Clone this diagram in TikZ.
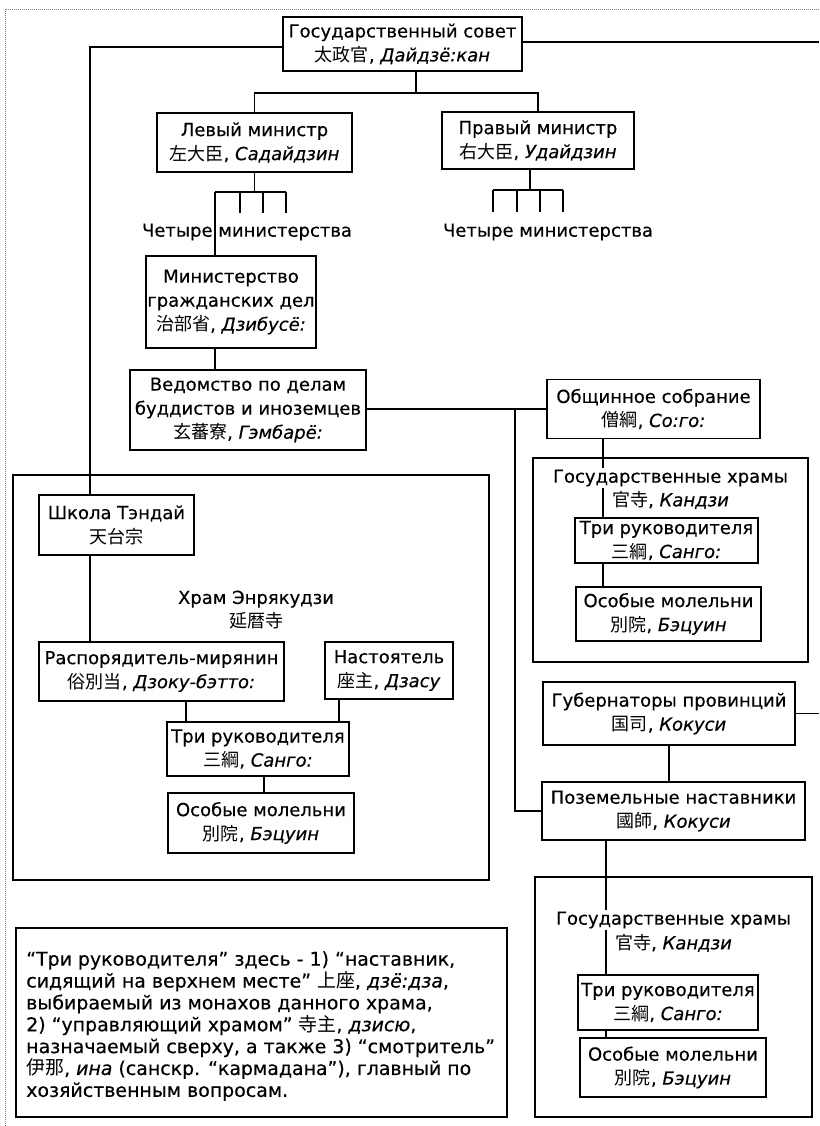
\documentclass[tikz,border=0pt]{standalone}
\usepackage{fontspec}
\setmainfont{DejaVu Sans}[FakeBold=0.4]
\newfontfamily\jpfont{Noto Sans CJK JP}
\newcommand{\kj}[1]{{\jpfont #1}}
\tikzset{
  box/.style 2 args={draw, line width=0.9pt, align=center, inner sep=1pt,
    minimum width=#1*0.75pt, minimum height=#2*0.75pt},
  heading/.style={align=center, inner sep=1pt},
  link/.style={line width=0.9pt},
}

\begin{document}
\begin{tikzpicture}[x=0.75pt,y=0.75pt,yscale=-1,xscale=1,font=\fontsize{13.5}{18}\selectfont]
    \useasboundingbox (0,0) rectangle (819,1126);
    %Shape: page edge
    \draw[gray, line width=0.5pt, densely dotted] (819,9) -- (5,9) -- (5,1126);

    %Shape: Rectangle [Enryakuji]
    \draw[link] (13,475) rectangle (489,880);
    %Shape: Rectangle [state temples 1]
    \draw[link] (533,458) rectangle (808,662);
    %Shape: Rectangle [state temples 2]
    \draw[link] (535,877) rectangle (812,1117);
    %Shape: Rectangle [note]
    \draw[link] (16,928) rectangle (507,1117);

    % Boxes
    \node[box={239}{54}] (council) at (402.5,44) {Государственный совет\\\kj{太政官}, \textit{Дайдзё:кан}};
    \node[box={195}{59}] (lmin) at (254.5,142.5) {Левый министр\\\kj{左大臣}, \textit{Садайдзин}};
    \node[box={192}{57}] (rmin) at (538,140.5) {Правый министр\\\kj{右大臣}, \textit{Удайдзин}};
    \node[box={148}{92}] (civil) at (231,302) {Министерство\\гражданских дел\\\kj{治部省}, \textit{Дзибусё:}};
    \node[box={236}{80}] (vedom) at (248,410) {Ведомство по делам\\буддистов и иноземцев\\\kj{玄蕃寮}, \textit{Гэмбарё:}};
    \node[box={213}{59}] (obsh) at (653.5,409) {Общинное собрание\\\kj{僧綱}, \textit{Со:го:}};
    \node[box={183}{45}] (tri1) at (666.5,540.5) {Три руководителя\\\kj{三綱}, \textit{Санго:}};
    \node[box={185}{54}] (osob1) at (668.5,614) {Особые молельни\\\kj{別院}, \textit{Бэцуин}};
    \node[box={252}{63}] (gub) at (669,713.5) {Губернаторы провинций\\\kj{国司}, \textit{Кокуси}};
    \node[box={263}{58}] (pozem) at (673.5,811) {Поземельные наставники\\\kj{國師}, \textit{Кокуси}};
    \node[box={180}{55}] (tri2) at (668,1002.5) {Три руководителя\\\kj{三綱}, \textit{Санго:}};
    \node[box={186}{59}] (osob2) at (673,1067.5) {Особые молельни\\\kj{別院}, \textit{Бэцуин}};
    \node[box={155}{60}] (tendai) at (116.5,525) {Школа Тэндай\\\kj{天台宗}};
    \node[box={245}{59}] (raspor) at (161.5,671.5) {Распорядитель-мирянин\\\kj{俗別当}, \textit{Дзоку-бэтто:}};
    \node[box={128}{57}] (nast) at (389,670.5) {Настоятель\\\kj{座主}, \textit{Дзасу}};
    \node[box={182}{54}] (tri0) at (258,749) {Три руководителя\\\kj{三綱}, \textit{Санго:}};
    \node[box={186}{60}] (osob0) at (261,823) {Особые молельни\\\kj{別院}, \textit{Бэцуин}};

    % Rails
    \coordinate (lrail) at (90,47);
    \coordinate (redge) at (819,42);
    \coordinate (cbus) at (416,93);
    \coordinate (lfork) at (215,192);
    \coordinate (rdrop) at (530,190);
    \coordinate (mrail) at (515,409);
    \coordinate (srail1) at (603,0);
    \coordinate (srail2) at (606,0);
    \coordinate (gedge) at (819,713.5);
    \coordinate (erail) at (186,0);
    \coordinate (nrail) at (339,0);
    \coordinate (orail) at (264,0);

    % Connectors
    \draw[link] (council.west |- lrail) -- (lrail) -- (lrail |- tendai.north);
    \draw[link] (tendai.south -| lrail) -- (raspor.north -| lrail);
    \draw[link] (council.east |- redge) -- (redge);
    \draw[link] (council.south -| cbus) -- (cbus);
    \draw[link] (lmin.north) |- (cbus) -| (rmin.north);
    \draw[link] (lmin.south) -- (lmin.south |- lfork);
    \draw[link] (lfork) -- (286,192);
    \foreach \x in {240,263,286} \draw[link] (\x,192) -- (\x,213);
    \draw[link] (lfork) -- (lfork |- civil.north);
    \draw[link] (civil.south -| lfork) -- (vedom.north -| lfork);
    \draw[link] (rmin.south -| rdrop) -- (rdrop);
    \draw[link] (493,190) -- (563,190);
    \foreach \x in {493,517,540,563} \draw[link] (\x,190) -- (\x,212);
    \draw[link] (vedom.east |- mrail) -- (obsh.west |- mrail);
    \draw[link] (mrail) |- (pozem.west);
    \draw[link] (obsh.south -| srail1) -- (tri1.north -| srail1);
    \draw[link] (tri1.south -| srail1) -- (osob1.north -| srail1);
    \draw[link] (gub.east) -- (gedge);
    \draw[link] (gub.south) -- (gub.south |- pozem.north);
    \draw[link] (pozem.south -| srail2) -- (tri2.north -| srail2);
    \draw[link] (tri2.south -| srail2) -- (osob2.north -| srail2);
    \draw[link] (raspor.south -| erail) -- (tri0.north -| erail);
    \draw[link] (nast.south -| nrail) -- (tri0.north -| nrail);
    \draw[link] (tri0.south -| orail) -- (osob0.north -| orail);

    % Text Node
    \node[heading] (fourl) at (247,232) {Четыре министерства};
    \node[heading] (fourr) at (548,232) {Четыре министерства};
    \node[heading] (enryaku) at (256,610) {Храм Энрякудзи\\\kj{延暦寺}};
    \node[heading, fill=white] (statea) at (670.5,478) {Государственные храмы};
    \node[heading] (stateb) at (670.5,500) {\kj{官寺}, \textit{Кандзи}};
    \node[heading, fill=white] (state2a) at (673.5,920) {Государственные храмы};
    \node[heading] (state2b) at (673.5,943) {\kj{官寺}, \textit{Кандзи}};
    % Text Node
    \node[anchor=north west, align=left, inner sep=0pt, font=\fontsize{14.2}{16.4}\selectfont] (note) at (26,951)
      {“Три руководителя” здесь - 1) “наставник,\\
       сидящий на верхнем месте” \kj{上座}, \textit{дзё:дза},\\
       выбираемый из монахов данного храма,\\
       2) “управляющий храмом” \kj{寺主}, \textit{дзисю},\\
       назначаемый сверху, а также 3) “смотритель”\\
       \kj{伊那}, \textit{ина} (санскр. “кармадана”), главный по\\
       хозяйственным вопросам.};

\end{tikzpicture}
\end{document}
